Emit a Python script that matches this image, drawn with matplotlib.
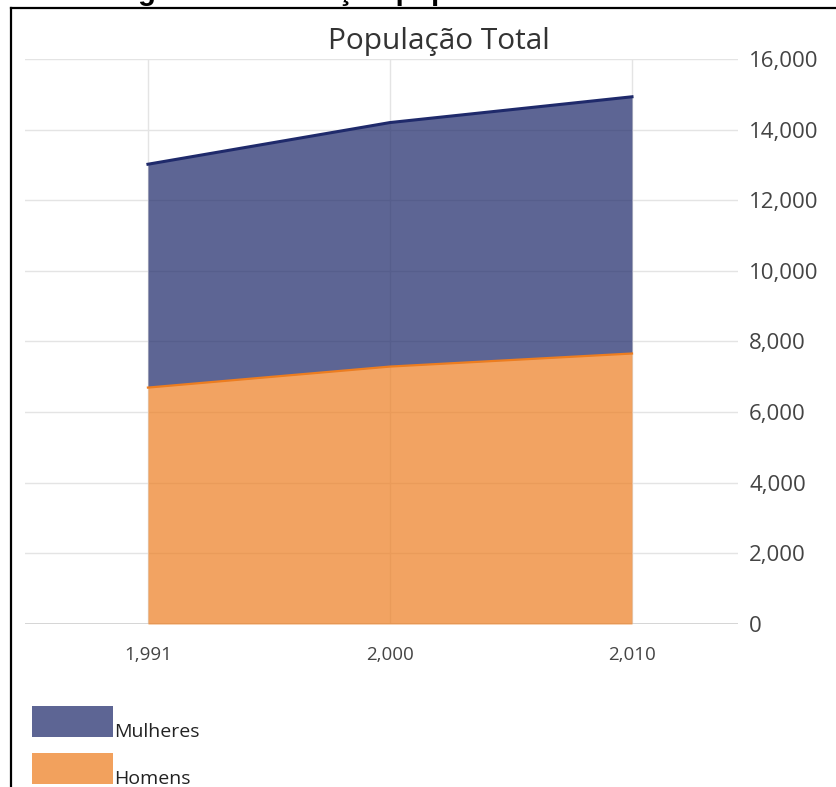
import matplotlib
matplotlib.use("Agg")
import matplotlib.pyplot as plt
from matplotlib.patches import Rectangle
from matplotlib.lines import Line2D
import numpy as np

# Dados da população por sexo
anos = ["1,991", "2,000", "2,010"]
homens = [6695, 7290, 7660]
mulheres = [6325, 6910, 7270]
y_ticks = [0, 2000, 4000, 6000, 8000, 10000, 12000, 14000, 16000]
y_tick_labels = ["0", "2,000", "4,000", "6,000", "8,000", "10,000", "12,000", "14,000", "16,000"]

W, H = 836, 787
fig = plt.figure(figsize=(W / 100, H / 100), dpi=100)
fig.patch.set_facecolor("white")

def fx(px):
    return px / W

def fy(py):
    return 1 - py / H

ax = fig.add_axes([fx(25), fy(624), fx(738) - fx(25), fy(59) - fy(624)])
x = np.arange(len(anos))
base = np.array(homens)
total = base + np.array(mulheres)

navy = (31 / 255, 42 / 255, 107 / 255)
orange = (237 / 255, 125 / 255, 31 / 255)

ax.fill_between(x, 0, base, color=orange, alpha=0.7, lw=0, zorder=2)
ax.fill_between(x, base, total, color=navy, alpha=0.72, lw=0, zorder=2)
ax.plot(x, base, color=orange, lw=1.6, zorder=3)
ax.plot(x, total, color=navy, lw=2.2, zorder=3)

ax.set_xlim(-0.508, 2.438)
ax.set_ylim(0, 16000)
for s in ax.spines.values():
    s.set_visible(False)
ax.set_xticks(x)
ax.set_xticklabels(anos, fontfamily="Open Sans", fontsize=13.5, color="#444444")
ax.set_yticks(y_ticks)
ax.set_yticklabels(y_tick_labels, fontfamily="Open Sans", fontsize=16, color="#444444")
ax.yaxis.tick_right()
ax.tick_params(axis="y", length=0, pad=8)
ax.tick_params(axis="x", length=0, pad=16)
ax.grid(True, color="#e4e4e4", lw=1.0, zorder=0)
ax.set_axisbelow(True)
ax.axhline(0, color="#d2d2d2", lw=2.0, zorder=1)

fig.text(fx(439), fy(41), "População Total", ha="center", va="center",
         fontfamily="Open Sans", fontsize=21.5, color="#333333")

# Legenda
for i, (nome, cor) in enumerate([("Mulheres", navy), ("Homens", orange)]):
    top = 706 + i * 47
    fig.patches.append(Rectangle((fx(32), fy(top + 31)), fx(113) - fx(32), fy(top) - fy(top + 31),
                                 transform=fig.transFigure, facecolor=cor, alpha=0.72,
                                 edgecolor="none"))
    fig.text(fx(114), fy(top + 31), nome, ha="left", va="baseline",
             fontfamily="Open Sans", fontsize=14, color="#222222")

# Moldura
fig.add_artist(Line2D([fx(10.5), fx(10.5)], [fy(8), 0], transform=fig.transFigure,
                      color="black", lw=1.6))
fig.add_artist(Line2D([fx(10.5), 1], [fy(8), fy(8)], transform=fig.transFigure,
                      color="black", lw=1.6))

# Legenda da figura (parte superior)
fig.text(fx(112), fy(0.5), "Figura 2 – Evolução populacional", ha="left", va="baseline",
         fontfamily="Liberation Sans", fontweight="bold", fontsize=21, color="black")

fig.savefig("out.png", dpi=100, facecolor="white")
